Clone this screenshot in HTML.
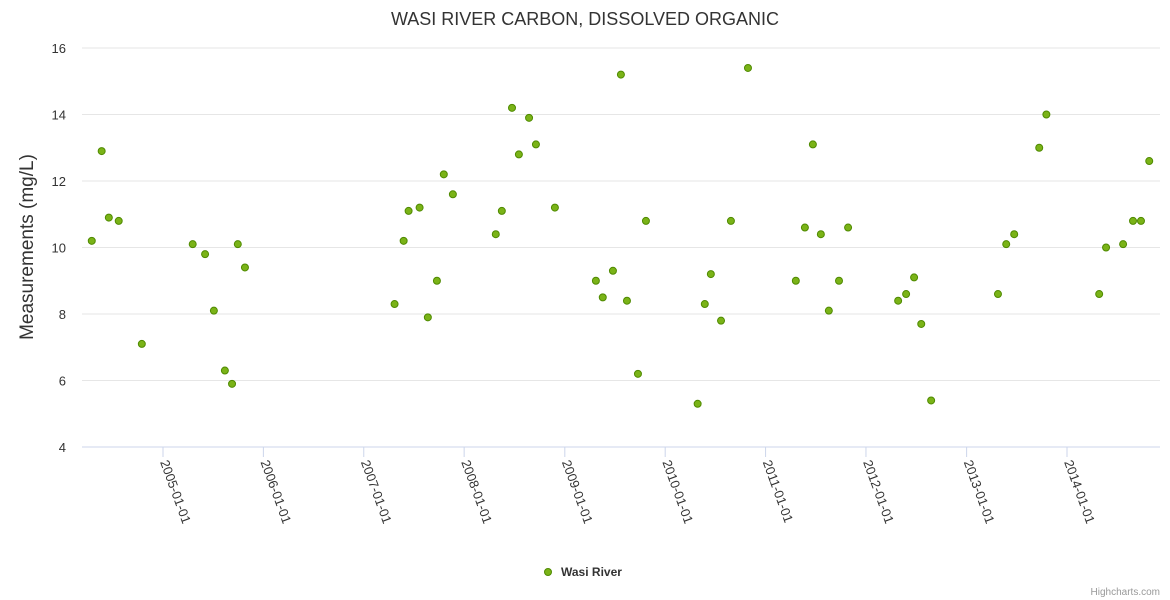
<!DOCTYPE html>
<html><head><meta charset="utf-8"><style>
body{margin:0;background:#fff;}
svg{display:block;font-family:"Liberation Sans",sans-serif;}
</style></head><body>
<svg id="chart" width="1170" height="600">
<text x="585" y="25" text-anchor="middle" font-size="18" fill="#333">WASI RIVER CARBON, DISSOLVED ORGANIC</text>
<text transform="translate(33,247) rotate(-90)" text-anchor="middle" font-size="19" fill="#333">Measurements (mg/L)</text>
<g id="grid"></g><g id="xaxis"></g><g id="pts"></g>
<g>
<circle cx="548" cy="572" r="3.5" fill="#7ab317" stroke="#4f8a00" stroke-width="1"/>
<text x="561" y="576" font-size="12" font-weight="bold" fill="#333">Wasi River</text>
</g>
<text x="1160" y="595" text-anchor="end" font-size="10" fill="#999">Highcharts.com</text>
</svg>
<script>
const dates=["2004-04-17","2004-05-23","2004-06-18","2004-07-24","2004-10-16","2005-04-19","2005-06-03","2005-07-05","2005-08-14","2005-09-09","2005-09-30","2005-10-26","2007-04-23","2007-05-26","2007-06-13","2007-07-23","2007-08-22","2007-09-24","2007-10-19","2007-11-21","2008-04-25","2008-05-17","2008-06-23","2008-07-18","2008-08-24","2008-09-18","2008-11-26","2009-04-24","2009-05-19","2009-06-25","2009-07-24","2009-08-15","2009-09-24","2009-10-23","2010-04-29","2010-05-25","2010-06-16","2010-07-23","2010-08-28","2010-10-29","2011-04-21","2011-05-24","2011-06-22","2011-07-21","2011-08-19","2011-09-25","2011-10-28","2012-04-27","2012-05-26","2012-06-24","2012-07-20","2012-08-25","2013-04-25","2013-05-25","2013-06-23","2013-09-22","2013-10-18","2014-04-28","2014-05-23","2014-07-24","2014-08-29","2014-09-27","2014-10-27"];
const values=[10.2,12.9,10.9,10.8,7.1,10.1,9.8,8.1,6.3,5.9,10.1,9.4,8.3,10.2,11.1,11.2,7.9,9.0,12.2,11.6,10.4,11.1,14.2,12.8,13.9,13.1,11.2,9.0,8.5,9.3,15.2,8.4,6.2,10.8,5.3,8.3,9.2,7.8,10.8,15.4,9.0,10.6,13.1,10.4,8.1,9.0,10.6,8.4,8.6,9.1,7.7,5.4,8.6,10.1,10.4,13.0,14.0,8.6,10.0,10.1,10.8,10.8,12.6];
const yTicks=[4,6,8,10,12,14,16];
const xTicks=["2005-01-01","2006-01-01","2007-01-01","2008-01-01","2009-01-01","2010-01-01","2011-01-01","2012-01-01","2013-01-01","2014-01-01"];
const NS="http://www.w3.org/2000/svg";
const t0=Date.parse("2005-01-01"),t1=Date.parse("2014-01-01");
function xs(d){return 163+(Date.parse(d)-t0)/(t1-t0)*904;}
function ys(v){return 447-(v-4)/12*399;}
function mk(tag,a,p){const e=document.createElementNS(NS,tag);for(const k in a)e.setAttribute(k,a[k]);p.appendChild(e);return e;}
const grid=document.getElementById('grid');
yTicks.forEach(v=>{
  const l=mk('line',{x1:82,x2:1160,y1:ys(v),y2:ys(v),stroke:v===4?'#ccd6eb':'#e6e6e6','stroke-width':1},grid);
  
  
  const t=mk('text',{x:66,y:ys(v)+5,'text-anchor':'end','font-size':13,fill:'#333'},grid);
  t.textContent=v;
  
  
});
const xa=document.getElementById('xaxis');
xTicks.forEach(d=>{
  const x=xs(d);
  const l=mk('line',{x1:x,x2:x,y1:447,y2:457,stroke:'#ccd6eb'},xa);
  
  
  const t=mk('text',{transform:`translate(${x-3},${462}) rotate(70)`,'font-size':13,fill:'#333'},xa);
  t.textContent=d;
  
  
});
const pts=document.getElementById('pts');
dates.forEach((d,i)=>{
  const c=mk('circle',{cx:xs(d),cy:ys(values[i]),r:3.5,fill:'#7ab317',stroke:'#4f8a00','stroke-width':1},pts);
  
  
});
</script>
</body></html>
